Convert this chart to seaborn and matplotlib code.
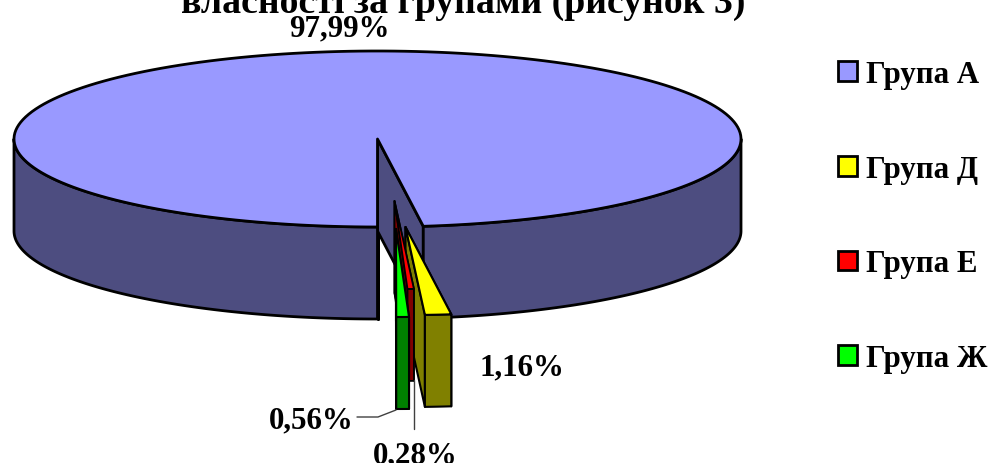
import numpy as np
import matplotlib
matplotlib.use('Agg')
import matplotlib.pyplot as plt
from matplotlib.patches import Patch
import seaborn as sns

# Data
groups = ['Група А', 'Група Д', 'Група Е', 'Група Ж']
shares = [97.99, 1.16, 0.28, 0.56]
title_line = 'власності за групами (рисунок 3)'

top_colors = ['#9999FF', '#FFFF00', '#FF0000', '#00FF00']
side_colors = ['#4D4D80', '#808000', '#800000', '#008000']

sns.set_theme(style='white')
plt.rcParams['font.family'] = ['Liberation Serif', 'DejaVu Serif']
plt.rcParams['font.weight'] = 'bold'
plt.rcParams['text.color'] = 'black'

# Pie geometry in pixels, the axes cover the whole figure
CX, CY = 377.5, 140
RX, RY = 363.5, 88
DEPTH = 92
OFFSETS = [(0, 0), (28, 88), (17, 62), (18.5, 90)]
WIDTHS = [2.0, 1.5, 1.3, 1.5]


def arc(t1, t2, dx, dy, drop=0):
    # angles are clockwise from the top of the ellipse
    t = np.radians(np.linspace(t1, t2, 200))
    return CX + dx + RX * np.sin(t), CY + dy + drop - RY * np.cos(t)


def draw_slice(ax, t1, t2, dx, dy, top, side, lw):
    apex_x, apex_y = CX + dx, CY + dy
    # inner walls
    for t in (t1, t2):
        x, y = arc(t, t, dx, dy)
        ax.fill([apex_x, x[0], x[0], apex_x],
                [apex_y, y[0], y[0] + DEPTH, apex_y + DEPTH],
                fc=side, ec='black', lw=lw, joinstyle='round')
    # outer rim, only the front half of the ellipse can be seen
    for a, b in ((t1, min(t2, 270)), (max(t1, 90 + 360), t2)):
        if b > a and (a < 270 or a >= 450):
            x, y = arc(a, b, dx, dy)
            ax.fill(np.r_[x, x[::-1]], np.r_[y, y[::-1] + DEPTH],
                    fc=side, ec='black', lw=lw, joinstyle='round')
    # top face
    x, y = arc(t1, t2, dx, dy)
    ax.fill(np.r_[apex_x, x], np.r_[apex_y, y],
            fc=top, ec='black', lw=lw, joinstyle='round')


fig, ax = plt.subplots(figsize=(9.9, 4.64), dpi=100)
ax.set_position([0, 0, 1, 1])
ax.set_xlim(0, 990)
ax.set_ylim(464, 0)
ax.axis('off')

# Slices run clockwise from straight down
start = 180.0
for share, (dx, dy), top, side, lw in zip(shares, OFFSETS, top_colors, side_colors, WIDTHS):
    end = start + share * 3.6
    draw_slice(ax, start, end, dx, dy, top, side, lw)
    start = end

# Leader lines
ax.plot([357, 378, 396], [418, 418, 411], color='#404040', lw=1.0)
ax.plot([414, 414], [381, 430], color='#404040', lw=1.0)

# Labels
label_pos = [(339, 29), (522, 368), (415, 456), (311, 421)]
labels = [f'{v:.2f}'.replace('.', ',') + '%' for v in shares]
for text, (x, y) in zip(labels, label_pos):
    ax.text(x, y, text, ha='center', va='center', fontsize=22.3, color='black')

ax.text(463, 13, title_line, ha='center', va='baseline', fontsize=27.2, color='black')

handles = [Patch(fc=c, ec='black', lw=2.0) for c in top_colors]
ax.legend(handles, groups, loc='upper left', bbox_to_anchor=(838 / 990, 1 - 61 / 464),
          frameon=False, fontsize=22.2, handlelength=0.62, handleheight=0.62,
          handletextpad=0.28, labelspacing=2.13, borderpad=0, borderaxespad=0)

fig.savefig('out.png', dpi=100)
